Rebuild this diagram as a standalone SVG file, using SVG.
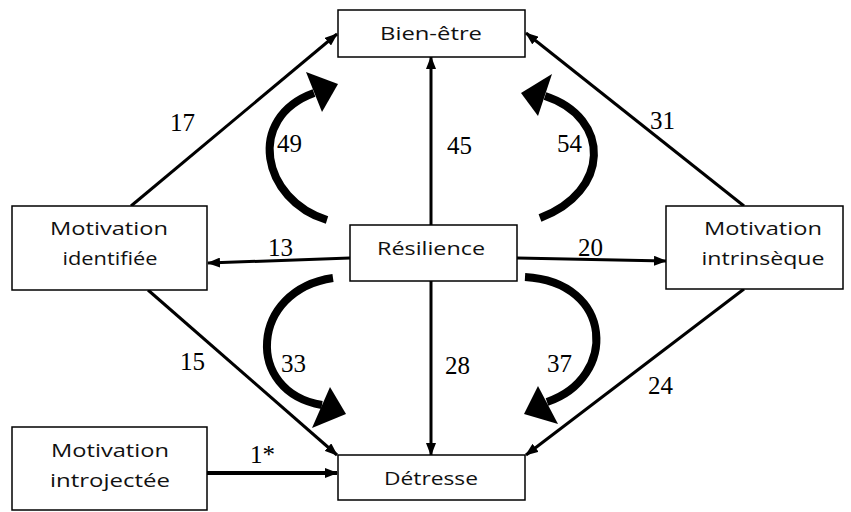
<svg xmlns="http://www.w3.org/2000/svg" width="851" height="512" viewBox="0 0 851 512">
<style>
.box{fill:#fff;stroke:#000;stroke-width:1.5}
.t{font-family:"Open Sans","Noto Sans",sans-serif;font-size:19px;fill:#111;text-anchor:middle}
.n{font-family:"Liberation Serif","Times New Roman",serif;font-size:25px;fill:#000}
.ln{stroke:#000;stroke-width:3;fill:none}
.cv{stroke:#000;stroke-width:8;fill:none}
</style>
<defs>
<marker id="ah" markerUnits="userSpaceOnUse" markerWidth="13" markerHeight="10" refX="12" refY="5" orient="auto">
<path d="M0,0 L13,5 L0,10 z" fill="#000"/>
</marker>
</defs>
<g id="connectors">
<line class="ln" x1="131" y1="206" x2="337" y2="34" marker-end="url(#ah)"/>
<line class="ln" x1="744" y1="206" x2="526" y2="33" marker-end="url(#ah)"/>
<line class="ln" x1="431" y1="225" x2="431" y2="57" marker-end="url(#ah)"/>
<line class="ln" x1="350" y1="258" x2="208" y2="263" marker-end="url(#ah)"/>
<line class="ln" x1="517" y1="258" x2="666" y2="261" marker-end="url(#ah)"/>
<line class="ln" x1="431" y1="281" x2="431" y2="455" marker-end="url(#ah)"/>
<line class="ln" x1="148" y1="290" x2="337" y2="455" marker-end="url(#ah)"/>
<line class="ln" x1="744" y1="289" x2="526" y2="455" marker-end="url(#ah)"/>
<line class="ln" style="stroke-width:4" x1="207" y1="473" x2="337" y2="473" marker-end="url(#ah)"/>
<path class="cv" d="M327,220 C262,200 245,118 314,93"/>
<polygon points="306,72 338,84 322,112"/>
<path class="cv" d="M540,218 C610,192 612,118 545,96"/>
<polygon points="552,74 521,93 538,116"/>
<path class="cv" d="M333,278 C250,290 244,392 322,405"/>
<polygon points="330,387 346,414 312,428"/>
<path class="cv" d="M525,277 C614,282 618,378 547,402"/>
<polygon points="538,386 524,414 558,424"/>
</g>
<g id="labels">
<text class="n" x="170" y="131">17</text>
<text class="n" x="650" y="129">31</text>
<text class="n" x="447" y="154">45</text>
<text class="n" x="277" y="152">49</text>
<text class="n" x="557" y="152">54</text>
<text class="n" x="268" y="256">13</text>
<text class="n" x="578" y="256">20</text>
<text class="n" x="180" y="370">15</text>
<text class="n" x="445" y="374">28</text>
<text class="n" x="281" y="372">33</text>
<text class="n" x="547" y="372">37</text>
<text class="n" x="648" y="394">24</text>
<text class="n" x="250" y="463">1*</text>
</g>
<g id="bien-etre">
<rect class="box" x="338" y="10" width="187" height="47"/>
<text class="t" x="431" y="40" textLength="102" lengthAdjust="spacingAndGlyphs">Bien-être</text>
</g>
<g id="resilience">
<rect class="box" x="350" y="225" width="167" height="56"/>
<text class="t" x="431" y="255" textLength="108" lengthAdjust="spacingAndGlyphs">Résilience</text>
</g>
<g id="motivation-identifiee">
<rect class="box" x="12" y="206" width="195" height="84"/>
<text class="t" x="109" y="235" textLength="118" lengthAdjust="spacingAndGlyphs">Motivation</text>
<text class="t" x="110" y="265" textLength="95" lengthAdjust="spacingAndGlyphs">identifiée</text>
</g>
<g id="motivation-intrinseque">
<rect class="box" x="666" y="206" width="177" height="83"/>
<text class="t" x="763" y="235" textLength="118" lengthAdjust="spacingAndGlyphs">Motivation</text>
<text class="t" x="763" y="265" textLength="123" lengthAdjust="spacingAndGlyphs">intrinsèque</text>
</g>
<g id="motivation-introjectee">
<rect class="box" x="12" y="427" width="195" height="83"/>
<text class="t" x="110" y="457" textLength="118" lengthAdjust="spacingAndGlyphs">Motivation</text>
<text class="t" x="110" y="487" textLength="120" lengthAdjust="spacingAndGlyphs">introjectée</text>
</g>
<g id="detresse">
<rect class="box" x="338" y="455" width="187" height="45"/>
<text class="t" x="431" y="485" textLength="94" lengthAdjust="spacingAndGlyphs">Détresse</text>
</g>
</svg>
